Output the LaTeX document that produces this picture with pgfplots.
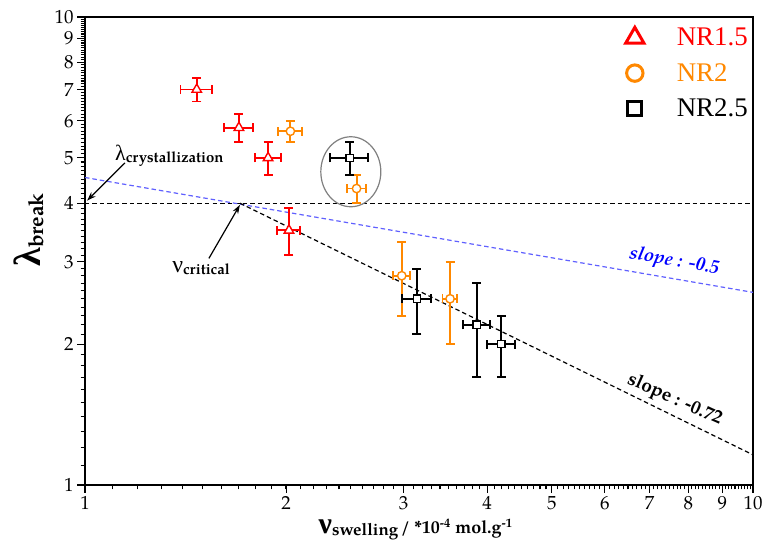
\documentclass[border=0pt]{standalone}
\usepackage{pgfplots}
\pgfplotsset{compat=1.18}
\usepackage{fontspec}
\setmainfont{TeX Gyre Pagella}
\newfontfamily\legfont{Liberation Serif}
\newfontfamily\grk{Liberation Serif}
\usetikzlibrary{arrows.meta}
\definecolor{nrred}{RGB}{255,0,0}
\definecolor{nrorange}{RGB}{255,136,0}
\definecolor{slopeblue}{RGB}{96,96,255}
\definecolor{lblue}{RGB}{0,0,255}

\pgfplotstableread{
x y ex ey
1.47 7.0 0.08 0.40
1.70 5.8 0.085 0.40
1.88 5.0 0.085 0.40
2.02 3.5 0.08 0.40
}\nrA
\pgfplotstableread{
x y ex ey
2.03 5.70 0.085 0.30
2.55 4.30 0.085 0.30
2.98 2.80 0.085 0.50
3.52 2.50 0.09 0.50
}\nrB
\pgfplotstableread{
x y ex ey
2.49 5.00 0.16 0.40
3.14 2.50 0.16 0.40
3.86 2.20 0.18 0.50
4.20 2.00 0.20 0.30
}\nrC

\begin{document}
\begin{tikzpicture}
\path[use as bounding box] (-85bp,-61bp) rectangle (681bp,485bp);
\begin{loglogaxis}[
  scale only axis, width=668bp, height=468bp,
  xmin=1, xmax=10, ymin=1, ymax=10,
  xtick={1,2,3,4,5,6,7,8,9,10},
  ytick={1,2,3,4,5,6,7,8,9,10},
  xticklabels={1,2,3,4,5,6,7,8,9,10},
  yticklabels={1,2,3,4,5,6,7,8,9,10},
  minor xtick={1.1,1.2,...,9.9},
  minor ytick={1.1,1.2,...,9.9},
  tick align=outside, xtick pos=left, ytick pos=left,
  major tick length=8bp, minor tick length=4.5bp,
  every tick/.style={black, line width=1.1bp},
  axis line style={line width=1.6bp},
  ticklabel style={font=\fontsize{19}{19}\selectfont},
  /pgf/number format/assume math mode=true,
  xlabel={{\grk\bfseries\fontsize{30}{30}\selectfont ν}\raisebox{-0.45ex}{\fontsize{17}{17}\selectfont\bfseries swelling} {\fontsize{18}{18}\selectfont\bfseries / *10\textsuperscript{-4} mol.g\textsuperscript{-1}}},
  xlabel style={at={(axis description cs:0.495,-0.095)}, anchor=center},
  ylabel={{\grk\bfseries\fontsize{38}{38}\selectfont λ}\raisebox{-0.45ex}{\fontsize{21}{21}\selectfont\bfseries break}},
  ylabel style={at={(axis description cs:-0.084,0.545)}, anchor=center},
  legend style={at={(axis description cs:1.0,0.985)}, anchor=north east, draw=none, fill=none,
    font=\legfont\fontsize{27}{27}\selectfont, row sep=12bp, nodes={inner sep=2bp}},
  legend cell align=left,
  legend image code/.code={\path[draw=none,fill=none] (0bp,-10bp) rectangle (60bp,10bp); \draw[#1] plot coordinates {(20bp,0bp)};},
  clip=false,
]
% reference lines
\addplot[black, line width=1.2bp, dash pattern=on 4.5bp off 3bp, forget plot] coordinates {(1,4) (10,4)};
\addplot[slopeblue, line width=1.2bp, dash pattern=on 4.5bp off 3bp, forget plot] coordinates {(1,4.54) (10,2.58)};
\addplot[black, line width=1.2bp, dash pattern=on 4.5bp off 3bp, forget plot] coordinates {(1.706,4) (10,1.16)};

% error bars
\addplot[forget plot, nrred, only marks, mark=none,
  error bars/.cd, x dir=both, x explicit, y dir=both, y explicit,
  error bar style={line width=1.9bp, nrred, solid},
  error mark options={rotate=90, mark size=4.5bp, line width=1.9bp, nrred}]
  table[x=x, y=y, x error=ex, y error=ey]{\nrA};
\addplot[forget plot, nrorange, only marks, mark=none,
  error bars/.cd, x dir=both, x explicit, y dir=both, y explicit,
  error bar style={line width=1.9bp, nrorange, solid},
  error mark options={rotate=90, mark size=4.5bp, line width=1.9bp, nrorange}]
  table[x=x, y=y, x error=ex, y error=ey]{\nrB};
\addplot[forget plot, black, only marks, mark=none,
  error bars/.cd, x dir=both, x explicit, y dir=both, y explicit,
  error bar style={line width=1.9bp, black, solid},
  error mark options={rotate=90, mark size=4.5bp, line width=1.9bp, black}]
  table[x=x, y=y, x error=ex, y error=ey]{\nrC};
% markers on top
\addplot[forget plot, only marks, mark=triangle*, mark size=5.5bp,
  mark options={draw=nrred, fill=white, line width=1.4bp, solid}] table[x=x, y=y]{\nrA};
\addplot[forget plot, only marks, mark=*, mark size=4.2bp,
  mark options={draw=nrorange, fill=white, line width=1.4bp, solid}] table[x=x, y=y]{\nrB};
\addplot[forget plot, only marks, mark=square*, mark size=3.6bp,
  mark options={draw=black, fill=white, line width=1.4bp, solid}] table[x=x, y=y]{\nrC};

% legend
\addlegendimage{only marks, mark=triangle, mark size=10.5bp, line width=3bp, draw=nrred}
\addlegendentry{\textcolor{nrred}{NR1.5}}
\addlegendimage{only marks, mark=o, mark size=8.2bp, line width=3bp, draw=nrorange}
\addlegendentry{\textcolor{nrorange}{NR2}}
\addlegendimage{only marks, mark=square, mark size=7bp, line width=3bp, draw=black}
\addlegendentry{\textcolor{black}{NR2.5}}

% annotations
\draw[gray, line width=1.2bp] (axis cs:2.50,4.67) ellipse [x radius=30bp, y radius=35bp];
\node[anchor=base west, inner sep=0pt] at (axis cs:1.109,4.93)
  {{\grk\fontsize{22}{22}\selectfont λ}\raisebox{-0.4ex}{\fontsize{15}{15}\selectfont\bfseries crystallization}};
\draw[-{Stealth[length=9bp,width=6bp]}, line width=1.2bp] (axis cs:1.148,4.88) -- (axis cs:1.007,4.05);
\node[anchor=base west, inner sep=0pt] at (axis cs:1.35,2.85)
  {{\grk\fontsize{24}{24}\selectfont ν}\raisebox{-0.4ex}{\fontsize{15}{15}\selectfont\bfseries critical}};
\draw[-{Stealth[length=9bp,width=6bp]}, line width=1.2bp] (axis cs:1.533,3.05) -- (axis cs:1.706,3.97);
\node[rotate=-10, text=lblue, font=\fontsize{19}{19}\selectfont\bfseries\itshape] at (axis cs:7.62,3.00) {slope : -0.5};
\node[rotate=-24, font=\fontsize{19}{19}\selectfont\bfseries] at (axis cs:7.64,1.518) {slope : -0.72};
\end{loglogaxis}
\end{tikzpicture}
\end{document}
